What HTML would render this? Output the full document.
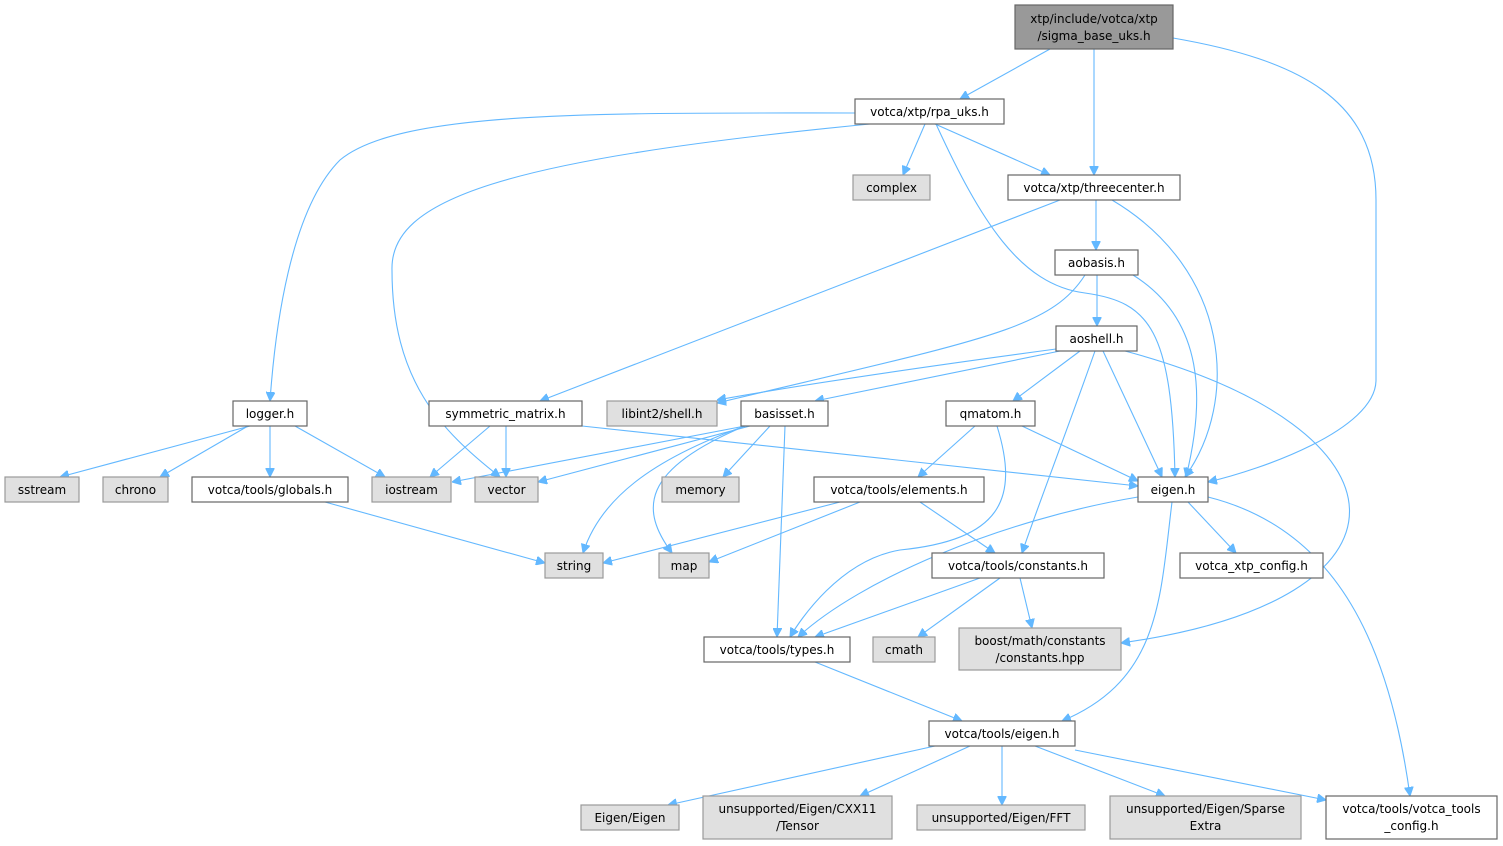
<!DOCTYPE html>
<html><head><meta charset="utf-8"><style>
html,body{margin:0;padding:0;background:#fff;}
svg{display:block;}
text{font-family:"DejaVu Sans","Liberation Sans",sans-serif;font-size:12px;fill:#000;text-anchor:middle;}
.w{fill:#fff;stroke:#666;stroke-width:1.2;}
.g{fill:#e0e0e0;stroke:#999;stroke-width:1.2;}
.r{fill:#999;stroke:#666;stroke-width:1.2;}
path{fill:none;stroke:#63b8ff;stroke-width:1.1;}
</style></head><body>
<svg width="1503" height="846" viewBox="0 0 1503 846" xmlns="http://www.w3.org/2000/svg">
<defs><marker id="a" viewBox="0 0 10 10" refX="10" refY="5" markerWidth="9" markerHeight="9" markerUnits="userSpaceOnUse" orient="auto"><path d="M0,0 L10,5 L0,10 z" style="fill:#63b8ff;stroke:#63b8ff"/></marker></defs>
<g marker-end="url(#a)">
<path d="M1050,49 L960,99"/>
<path d="M1094,49 L1094,175"/>
<path d="M1173,38 C1300,60 1376,100 1376,200 L1376,380 C1376,430 1260,470 1208,482"/>
<path d="M925,124 L903,175"/>
<path d="M935,124 L1050,175"/>
<path d="M855,113 C600,113 400,110 340,160 C290,210 275,330 270,401"/>
<path d="M870,124 C500,160 390,200 392,270 C392,380 440,430 500,477"/>
<path d="M936,124 C980,220 1020,285 1085,293 C1150,302 1172,330 1175,477"/>
<path d="M1060,200 L540,401"/>
<path d="M1096,200 L1096,250"/>
<path d="M1112,200 C1230,270 1240,400 1185,477"/>
<path d="M1097,275 L1097,326"/>
<path d="M1133,275 C1205,320 1205,400 1186,477"/>
<path d="M1085,275 C1050,330 980,340 717,403"/>
<path d="M1056,349 C900,370 800,385 717,400"/>
<path d="M1060,351 L815,401"/>
<path d="M1080,351 L1013,401"/>
<path d="M1103,351 L1162,477"/>
<path d="M1095,351 C1060,450 1040,500 1022,553"/>
<path d="M1125,351 C1420,430 1430,600 1121,643"/>
<path d="M250,426 L60,477"/>
<path d="M248,426 L160,477"/>
<path d="M270,426 L270,477"/>
<path d="M295,426 L385,477"/>
<path d="M490,426 L430,477"/>
<path d="M506,426 L506,477"/>
<path d="M582,426 L1138,486"/>
<path d="M745,426 L452,482"/>
<path d="M750,426 L538,482"/>
<path d="M770,426 L723,477"/>
<path d="M745,426 C650,460 600,500 583,553"/>
<path d="M745,426 C640,470 640,510 672,553"/>
<path d="M785,426 L777,637"/>
<path d="M975,426 L918,477"/>
<path d="M1022,426 L1138,481"/>
<path d="M997,426 C1020,500 1000,540 900,550 C840,560 800,620 790,637"/>
<path d="M325,502 L545,563"/>
<path d="M840,502 L603,563"/>
<path d="M860,502 L709,562"/>
<path d="M920,502 L995,553"/>
<path d="M1138,497 C1000,520 860,580 798,637"/>
<path d="M1188,502 L1236,553"/>
<path d="M1172,502 C1160,600 1160,680 1062,721"/>
<path d="M1208,497 C1340,530 1390,650 1410,796"/>
<path d="M980,578 L815,637"/>
<path d="M1000,578 L918,637"/>
<path d="M1020,578 L1032,628"/>
<path d="M815,662 L962,721"/>
<path d="M935,746 L668,805"/>
<path d="M970,746 L860,796"/>
<path d="M1002,746 L1002,805"/>
<path d="M1035,746 L1165,796"/>
<path d="M1075,750 L1326,800"/>
</g>
<rect class="r" x="1015" y="5" width="158" height="44"/><text x="1094" y="23">xtp/include/votca/xtp</text><text x="1094" y="40">/sigma_base_uks.h</text>
<rect class="w" x="855" y="99" width="149" height="25"/><text x="929.5" y="116">votca/xtp/rpa_uks.h</text>
<rect class="w" x="1008" y="175" width="172" height="25"/><text x="1094" y="192">votca/xtp/threecenter.h</text>
<rect class="g" x="853" y="175" width="77" height="25"/><text x="891.5" y="192">complex</text>
<rect class="w" x="1055" y="250" width="83" height="25"/><text x="1096.5" y="267">aobasis.h</text>
<rect class="w" x="1056" y="326" width="81" height="25"/><text x="1096.5" y="343">aoshell.h</text>
<rect class="w" x="233" y="401" width="74" height="25"/><text x="270" y="418">logger.h</text>
<rect class="w" x="429" y="401" width="153" height="25"/><text x="505.5" y="418">symmetric_matrix.h</text>
<rect class="g" x="607" y="401" width="110" height="25"/><text x="662" y="418">libint2/shell.h</text>
<rect class="w" x="741" y="401" width="87" height="25"/><text x="784.5" y="418">basisset.h</text>
<rect class="w" x="946" y="401" width="89" height="25"/><text x="990.5" y="418">qmatom.h</text>
<rect class="g" x="5" y="477" width="74" height="25"/><text x="42" y="494">sstream</text>
<rect class="g" x="103" y="477" width="65" height="25"/><text x="135.5" y="494">chrono</text>
<rect class="w" x="192" y="477" width="156" height="25"/><text x="270" y="494">votca/tools/globals.h</text>
<rect class="g" x="372" y="477" width="79" height="25"/><text x="411.5" y="494">iostream</text>
<rect class="g" x="475" y="477" width="63" height="25"/><text x="506.5" y="494">vector</text>
<rect class="g" x="662" y="477" width="77" height="25"/><text x="700.5" y="494">memory</text>
<rect class="w" x="814" y="477" width="170" height="25"/><text x="899" y="494">votca/tools/elements.h</text>
<rect class="w" x="1138" y="477" width="70" height="25"/><text x="1173" y="494">eigen.h</text>
<rect class="g" x="545" y="553" width="58" height="25"/><text x="574" y="570">string</text>
<rect class="g" x="659" y="553" width="50" height="25"/><text x="684" y="570">map</text>
<rect class="w" x="932" y="553" width="172" height="25"/><text x="1018" y="570">votca/tools/constants.h</text>
<rect class="w" x="1180" y="553" width="143" height="25"/><text x="1251.5" y="570">votca_xtp_config.h</text>
<rect class="w" x="704" y="637" width="146" height="25"/><text x="777" y="654">votca/tools/types.h</text>
<rect class="g" x="873" y="637" width="62" height="25"/><text x="904" y="654">cmath</text>
<rect class="g" x="959" y="628" width="162" height="42"/><text x="1040" y="645">boost/math/constants</text><text x="1040" y="662">/constants.hpp</text>
<rect class="w" x="929" y="721" width="146" height="25"/><text x="1002" y="738">votca/tools/eigen.h</text>
<rect class="g" x="581" y="805" width="98" height="25"/><text x="630" y="822">Eigen/Eigen</text>
<rect class="g" x="703" y="796" width="189" height="43"/><text x="797.5" y="813">unsupported/Eigen/CXX11</text><text x="797.5" y="830">/Tensor</text>
<rect class="g" x="917" y="805" width="168" height="25"/><text x="1001" y="822">unsupported/Eigen/FFT</text>
<rect class="g" x="1110" y="796" width="191" height="43"/><text x="1205.5" y="813">unsupported/Eigen/Sparse</text><text x="1205.5" y="830">Extra</text>
<rect class="w" x="1326" y="796" width="171" height="43"/><text x="1411.5" y="813">votca/tools/votca_tools</text><text x="1411.5" y="830">_config.h</text>
</svg>
</body></html>
